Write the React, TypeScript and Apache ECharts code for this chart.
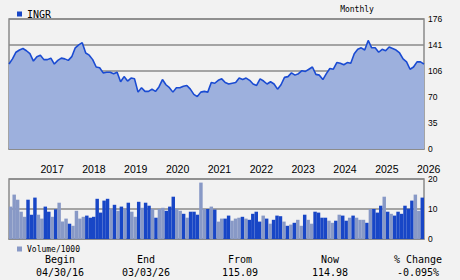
import React, { useEffect, useRef } from "react";
import * as echarts from "echarts";

const ticker = "INGR";
const startYear = 2016;
const startMonth = 4; // April

const price: number[] = [
  115, 122, 131, 134, 136, 133, 129, 119, 125, 127,
  121, 121, 123, 115, 120, 123, 122, 120, 125, 137,
  141, 144, 130, 127, 121, 111, 110, 103, 104, 104,
  102, 104, 91, 98, 92, 96, 95, 77, 83, 78,
  78, 81, 78, 84, 94, 87, 83, 77, 83, 83,
  85, 86, 81, 74, 71, 77, 78, 77, 90, 89,
  93, 95, 90, 88, 89, 90, 96, 94, 96, 93,
  88, 86, 95, 92, 88, 91, 88, 81, 87, 97,
  98, 103, 100, 102, 106, 105, 108, 111, 101, 100,
  94, 102, 109, 108, 117, 116, 114, 117, 116, 129,
  135, 137, 134, 147, 137, 137, 131, 135, 133, 138,
  136, 134, 130, 122, 118, 108, 111, 118, 118, 115,
];

const volume: number[] = [
  10.8, 14.8, 13.1, 9.1, 7.4, 13.1, 8.1, 13.8, 8.1, 6.8,
  10.8, 9.1, 7.4, 9.9, 12.1, 5.8, 6.8, 5.1, 4.4, 9.4,
  6.8, 7.4, 7.8, 7.1, 7.4, 13.4, 8.8, 12.8, 13.4, 10,
  11.4, 9.4, 10.8, 10, 12.1, 9.1, 7.4, 12.4, 10.4, 12.1,
  11.1, 10, 7.1, 10, 10.4, 9.4, 10.8, 14.1, 10, 9.4,
  8.4, 7.1, 9.1, 9.1, 8.1, 18.8, 10, 10, 10.8, 9.8,
  5.8, 6.8, 6.8, 7.8, 6.1, 6.8, 7.1, 7.4, 6.8, 6.4,
  8.4, 9.1, 5.8, 7.8, 6.8, 5.1, 6.4, 7.8, 7.6, 5.8,
  4.4, 4.8, 5.4, 6.4, 4.4, 8.1, 6.4, 5.1, 9.1, 8.8,
  7.1, 7.1, 6.1, 5.4, 6.1, 8.1, 7.8, 6.1, 7.1, 7.8,
  7.1, 6.4, 6.4, 5.4, 10, 10, 8.8, 11.1, 14.1, 9.1,
  8.4, 7.8, 9.1, 8.4, 11.1, 10.1, 12.8, 14.8, 9.4, 13.8,
];

// 1 = dark (up) bar, 0 = light bar
const volumeUp: number[] = [
  0, 0, 0, 0, 0, 1, 1, 1, 0, 0,
  1, 1, 0, 1, 0, 0, 0, 1, 0, 0,
  0, 0, 1, 1, 1, 1, 1, 1, 1, 0,
  1, 0, 1, 0, 1, 0, 0, 1, 0, 1,
  1, 0, 1, 0, 0, 1, 1, 1, 0, 0,
  1, 0, 1, 1, 1, 0, 0, 1, 0, 1,
  0, 0, 1, 1, 0, 0, 0, 1, 0, 1,
  1, 1, 1, 0, 1, 0, 1, 1, 1, 0,
  1, 0, 1, 0, 0, 1, 0, 0, 1, 1,
  1, 1, 0, 0, 1, 0, 1, 1, 0, 1,
  0, 0, 0, 1, 0, 1, 1, 1, 0, 1,
  0, 1, 1, 1, 1, 1, 1, 0, 0, 1,
];

const summaryHeaders = ["Begin", "End", "From", "Now", "% Change"];
const summaryValues = ["04/30/16", "03/03/26", "115.09", "114.98", "-0.095%"];

const months: string[] = price.map((_, i) => {
  const m = startMonth - 1 + i;
  const y = startYear + Math.floor(m / 12);
  const mm = (m % 12) + 1;
  return `${y}-${mm < 10 ? "0" + mm : mm}`;
});

const BG = "#f2f2f2";
const GRID = "#8a8a8a";
const DARK = "#1846c6";
const LIGHT = "#8899c6";
const LINE = "#1a4bd2";
const AREA = "#9db0dd";
const MONO = "DejaVu Sans Mono";
const SANS = "Liberation Sans";

export default function App() {
  const ref = useRef<HTMLDivElement>(null);
  useEffect(() => {
    if (!ref.current) return;
    const chart = echarts.init(ref.current, null, { renderer: "svg" });
    const colX = [60, 146, 240, 330, 418];
    const graphics: any[] = [
      {
        type: "text",
        x: 357,
        y: 9.5,
        style: { text: "Monthly", font: `8px ${MONO}`, fill: "#000", align: "center", verticalAlign: "middle" },
      },
    ];
    summaryHeaders.forEach((h, i) => {
      graphics.push({
        type: "text",
        x: colX[i],
        y: 259.5,
        style: { text: h, font: `10px ${MONO}`, fill: "#000", align: "center", verticalAlign: "middle" },
      });
      graphics.push({
        type: "text",
        x: colX[i],
        y: 272.5,
        style: { text: summaryValues[i], font: `10px ${MONO}`, fill: "#000", align: "center", verticalAlign: "middle" },
      });
    });

    chart.setOption({
      animation: false,
      backgroundColor: BG,
      legend: [
        {
          data: [{ name: ticker, icon: "rect" }],
          left: 12,
          top: 4,
          itemWidth: 5,
          itemHeight: 5,
          textStyle: { fontFamily: MONO, fontSize: 10, color: "#000" },
          selectedMode: false,
        },
        {
          data: [{ name: "Volume/1000", icon: "rect" }],
          left: 12,
          top: 240,
          itemWidth: 5,
          itemHeight: 5,
          textStyle: { fontFamily: MONO, fontSize: 8, color: "#000" },
          selectedMode: false,
        },
      ],
      grid: [
        { left: 9, right: 36, top: 19, height: 130, show: true, borderColor: GRID, borderWidth: 1.5, backgroundColor: "transparent" },
        { left: 9, right: 36, top: 179, height: 60, show: true, borderColor: GRID, borderWidth: 1.5, backgroundColor: "transparent" },
      ],
      xAxis: [
        {
          type: "category",
          gridIndex: 0,
          data: months,
          boundaryGap: false,
          axisLine: { show: true, lineStyle: { color: GRID, width: 1.5 } },
          axisTick: { show: false },
          splitLine: { show: false },
          axisLabel: {
            interval: (index: number) => (startMonth - 1 + index) % 12 === 0,
            formatter: (v: string) => v.slice(0, 4),
            align: "left",
            margin: 15,
            lineHeight: 9,
            fontFamily: SANS,
            fontSize: 10.5,
            color: "#000",
          },
        },
        {
          type: "category",
          gridIndex: 1,
          data: months,
          boundaryGap: true,
          axisLine: { show: true, lineStyle: { color: GRID, width: 1.5 } },
          axisTick: { show: false },
          axisLabel: { show: false },
          splitLine: { show: false },
        },
      ],
      yAxis: [
        {
          type: "value",
          gridIndex: 0,
          position: "right",
          min: 0,
          max: 176,
          interval: 35.2,
          axisLine: { show: false },
          axisTick: { show: false },
          splitLine: { show: true, lineStyle: { color: GRID, width: 1.5 } },
          axisLabel: {
            formatter: (v: number) => String(Math.round(v)),
            margin: 4,
            padding: [4, 0, 0, 0],
            lineHeight: 8,
            fontFamily: SANS,
            fontSize: 8.5,
            color: "#000",
          },
        },
        {
          type: "value",
          gridIndex: 1,
          position: "right",
          min: 0,
          max: 20,
          interval: 10,
          axisLine: { show: false },
          axisTick: { show: false },
          splitLine: { show: true, lineStyle: { color: GRID, width: 1.5 } },
          axisLabel: {
            margin: 4,
            padding: [3, 0, 0, 0],
            lineHeight: 8,
            fontFamily: SANS,
            fontSize: 8.5,
            color: "#000",
          },
        },
      ],
      series: [
        {
          name: ticker,
          type: "line",
          xAxisIndex: 0,
          yAxisIndex: 0,
          data: price,
          symbol: "none",
          lineStyle: { color: LINE, width: 1.6 },
          itemStyle: { color: DARK },
          areaStyle: { color: AREA, opacity: 1 },
        },
        {
          name: "Volume/1000",
          type: "bar",
          xAxisIndex: 1,
          yAxisIndex: 1,
          barCategoryGap: "0%",
          itemStyle: { color: LIGHT },
          data: volume.map((v, i) => ({ value: v, itemStyle: { color: volumeUp[i] ? DARK : LIGHT } })),
        },
      ],
      graphic: graphics,
    });
    return () => chart.dispose();
  }, []);
  return <div ref={ref} style={{ position: "fixed", left: 0, top: 0, width: 460, height: 280 }} />;
}
